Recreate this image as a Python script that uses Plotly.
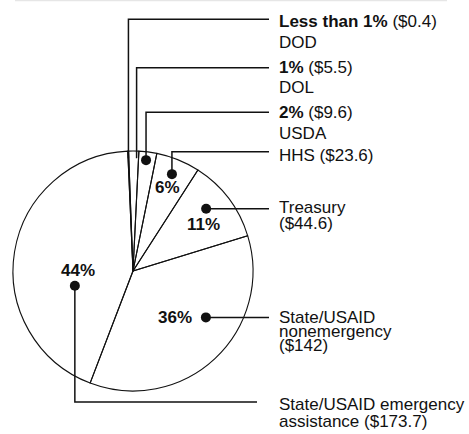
import math
import plotly.graph_objects as go

# ---------------- data ----------------
agencies = ["DOD", "DOL", "USDA", "HHS", "Treasury",
            "State/USAID nonemergency", "State/USAID emergency assistance"]
amounts = [0.4, 5.5, 9.6, 23.6, 44.6, 142, 173.7]
pct_labels = ["Less than 1%", "1%", "2%", "6%", "11%", "36%", "44%"]
amount_labels = ["($0.4)", "($5.5)", "($9.6)", "($23.6)", "($44.6)", "($142)", "($173.7)"]

# ---------------- layout constants ----------------
W, H = 469, 434
CX, CY, R = 133, 271, 120
ROT = -2.5
FONT = "Liberation Sans, Arial, Helvetica, sans-serif"
FS = 17

# leader anchor within each slice: fraction of slice angle, fraction of radius
anchor_frac = [0.5, 0.8, 0.45, 0.49, 0.42, 0.387, 0.35]
anchor_rad = [0.94, 0.94, 0.93, 0.87, 0.80, 0.72, 0.50]
show_dot = [False, False, True, True, True, True, True]
route = ["up", "up", "up", "up", "right", "right", "down"]
leader_y = [19.3, 67.7, 112.3, 151.7, None, None, 402]
leader_xend = [269, 269, 269, 269, 269, 269, 257]
TEXT_X = 277

# text lines per slice, with their vertical positions
label_lines = [
    [("<b>%s</b> %s" % (pct_labels[0], amount_labels[0]), 21), (agencies[0], 42)],
    [("<b>%s</b> %s" % (pct_labels[1], amount_labels[1]), 67), (agencies[1], 87.5)],
    [("<b>%s</b> %s" % (pct_labels[2], amount_labels[2]), 112), (agencies[2], 133)],
    [("%s %s" % (agencies[3], amount_labels[3]), 155.5)],
    [(agencies[4], 207.5), (amount_labels[4], 223)],
    [("State/USAID", 317.7), ("nonemergency", 331), (amount_labels[5], 345.7)],
    [("State/USAID emergency", 404.5), ("assistance " + amount_labels[6], 421.5)],
]
# inner percentage labels (offset from leader anchor)
pct_inside = [None, None, None, (-4, 13), (-3, 15.5), (-31, 0), (3, -15)]

fig = go.Figure()

fig.add_trace(go.Pie(
    values=amounts, labels=agencies, sort=False, direction="clockwise",
    rotation=ROT, textinfo="none", hoverinfo="label+value",
    marker=dict(colors=["rgba(0,0,0,0)"] * len(amounts),
                line=dict(color="#111", width=1.1)),
    domain=dict(x=[(CX - R) / W, (CX + R) / W],
                y=[(H - (CY + R)) / H, (H - (CY - R)) / H]),
    showlegend=False,
))

total = sum(amounts)
start = ROT
annotations = []
dots_x, dots_y = [], []
for i, v in enumerate(amounts):
    span = v / total * 360.0
    ang = math.radians(start + anchor_frac[i] * span)
    start += span
    rr = anchor_rad[i] * R
    ax = CX + rr * math.sin(ang)
    ay = CY - rr * math.cos(ang)
    if route[i] == "right":
        xs, ys = [ax, leader_xend[i]], [ay, ay]
    else:
        xs, ys = [ax, ax, leader_xend[i]], [ay, leader_y[i], leader_y[i]]
    fig.add_trace(go.Scatter(x=xs, y=ys, mode="lines",
                             line=dict(color="#111", width=1.5),
                             hoverinfo="skip", showlegend=False))
    if show_dot[i]:
        dots_x.append(ax)
        dots_y.append(ay)
    for txt, ty in label_lines[i]:
        annotations.append(dict(x=TEXT_X, y=ty, xref="x", yref="y", text=txt,
                                showarrow=False, xanchor="left", yanchor="middle",
                                font=dict(family=FONT, size=FS, color="#111")))
    if pct_inside[i] is not None:
        dx, dy = pct_inside[i]
        annotations.append(dict(x=ax + dx, y=ay + dy, xref="x", yref="y",
                                text="<b>%s</b>" % pct_labels[i], showarrow=False,
                                xanchor="center", yanchor="middle",
                                font=dict(family=FONT, size=FS, color="#111")))

fig.add_trace(go.Scatter(x=dots_x, y=dots_y, mode="markers",
                         marker=dict(color="#111", size=10),
                         hoverinfo="skip", showlegend=False))

fig.update_layout(
    width=W, height=H, margin=dict(l=0, r=0, t=0, b=0),
    paper_bgcolor="white", plot_bgcolor="white",
    xaxis=dict(range=[0, W], visible=False, fixedrange=True),
    yaxis=dict(range=[H, 0], visible=False, fixedrange=True),
    annotations=annotations,
    shapes=[dict(type="line", xref="x", yref="y", x0=15, x1=447, y0=0.5, y1=0.5,
                 line=dict(color="#e6e6e6", width=1.5))],
)

fig.write_html("out.html", config={"displayModeBar": False},
               post_script="document.body.style.margin='0';")
